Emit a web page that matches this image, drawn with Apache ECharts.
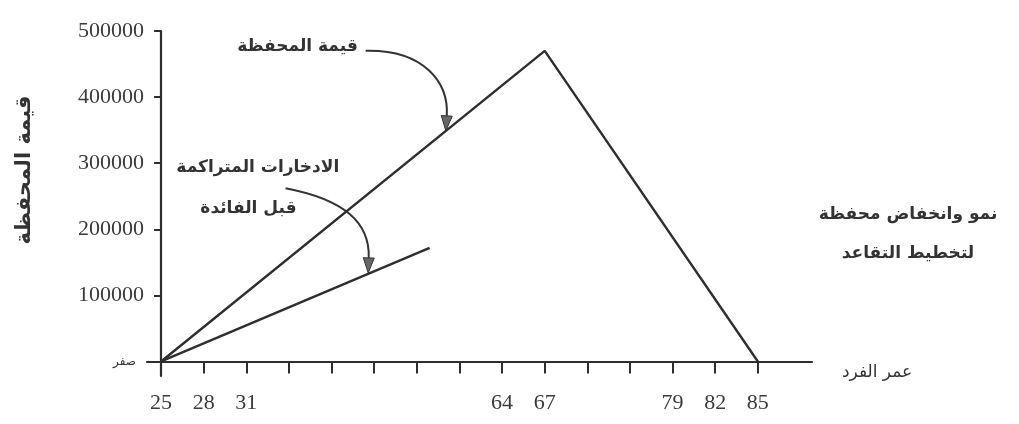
<!DOCTYPE html>
<html><head><meta charset="utf-8">
<script src="https://cdn.jsdelivr.net/npm/echarts@6/dist/echarts.min.js"></script>
<style>html,body{margin:0;padding:0;background:#fff}#c{width:1019px;height:424px}</style>
</head><body><div id="c"></div>
<script>
// ---- data ----
const ageLabels = ['25','28','31','','','','','','64','67','','','79','82','85'];
const tickIndex = [0,1,2,3,4,5,6,7,8,9,10,11,12,13,14];
const labelIndex = [0,1,2,8,9,12,13,14];
const portfolioIdx = [0, 9, 14];
const portfolioValue = [0, 470000, 0];
const savingsIdx = [0, 6.3];
const savingsValue = [0, 172000];
const yTicks = [0, 100000, 200000, 300000, 400000, 500000];

const AR = '"DejaVu Sans", sans-serif';
const SERIF = '"Liberation Serif", "DejaVu Serif", serif';
const INK = '#2e2e2e';

const chart = echarts.init(document.getElementById('c'), null, {renderer:'canvas'});
chart.setOption({
  animation:false,
  backgroundColor:'#fff',
  grid:{left:147, right:207, top:31, bottom:48},
  xAxis:{
    type:'value', min:-0.33, max:15.27,
    name:'عمر الفرد', nameLocation:'end', nameGap:30,
    nameTextStyle:{fontFamily:AR, fontSize:17, color:'#333', verticalAlign:'top', padding:[3,0,0,0]},
    axisLine:{onZero:true, lineStyle:{color:INK, width:2.2}},
    axisTick:{show:true, inside:false, length:12, customValues:tickIndex, lineStyle:{color:INK, width:2}},
    axisLabel:{customValues:labelIndex, margin:16, color:'#3a3a3a', fontFamily:SERIF, fontSize:22,
      formatter:v=>ageLabels[Math.round(v)]},
    splitLine:{show:false}
  },
  yAxis:{
    type:'value', min:-22000, max:500000,
    axisLine:{show:true, onZero:true, lineStyle:{color:INK, width:2.2}},
    axisTick:{show:true, inside:false, length:7, customValues:yTicks, lineStyle:{color:INK, width:2}},
    axisLabel:{customValues:yTicks, margin:3, color:'#3a3a3a', fontFamily:SERIF, fontSize:22,
      formatter:v=> v===0 ? '{z|صفر}' : String(v),
      rich:{z:{fontFamily:AR, fontSize:12, color:'#333', padding:[0,8,0,0]}}},
    splitLine:{show:false}
  },
  series:[
    {type:'line', data:portfolioIdx.map((x,i)=>[x,portfolioValue[i]]), showSymbol:false,
     lineStyle:{color:INK, width:2.4}, itemStyle:{color:INK}},
    {type:'line', data:savingsIdx.map((x,i)=>[x,savingsValue[i]]), showSymbol:false,
     lineStyle:{color:INK, width:2.4}, itemStyle:{color:INK}}
  ]
});

function px(p){ return chart.convertToPixel({gridIndex:0}, p); }
function arrow(s, c1, c2, e){
  const P=[px(s),px(c1),px(c2),px(e)];
  const dx=P[3][0]-P[2][0], dy=P[3][1]-P[2][1], L=Math.hypot(dx,dy);
  const ux=dx/L, uy=dy/L, nx=-uy, ny=ux, hl=15, hw=5.5;
  const bx=P[3][0]-ux*hl, by=P[3][1]-uy*hl;
  return [
    {type:'bezierCurve', shape:{x1:P[0][0],y1:P[0][1],cpx1:P[1][0],cpy1:P[1][1],cpx2:P[2][0],cpy2:P[2][1],x2:bx,y2:by},
     style:{stroke:'#333', lineWidth:2, fill:null}},
    {type:'polygon', shape:{points:[[P[3][0],P[3][1]],[bx+nx*hw,by+ny*hw],[bx-nx*hw,by-ny*hw]]},
     style:{fill:'#666', stroke:'#333', lineWidth:1}}
  ];
}
function label(text, p, size){
  const q=px(p);
  return {type:'text', x:q[0], y:q[1], style:{text:text, fontFamily:AR, fontWeight:'bold', fontSize:size||15,
    fill:'#333', align:'center', verticalAlign:'middle'}};
}
const g=[];
g.push(...arrow([4.8,470000],[6.2,472000],[6.75,420000],[6.68,349000]));
g.push(...arrow([2.92,262000],[4.3,245000],[4.9,210000],[4.86,134000]));
g.push(label('قيمة المحفظة',[3.2,477000],17));
g.push(label('الادخارات المتراكمة',[2.27,293000],17));
g.push(label('قبل الفائدة',[2.05,231000],17));
g.push({type:'text', x:25, y:170, rotation:Math.PI/2, style:{text:'قيمة المحفظة', fontFamily:AR, fontWeight:'bold',
  fontSize:21, fill:'#333', align:'center', verticalAlign:'middle'}});
g.push({type:'text', x:908, y:215, style:{text:'نمو وانخفاض محفظة', fontFamily:AR, fontWeight:'bold', fontSize:17,
  fill:'#333', align:'center', verticalAlign:'middle'}});
g.push({type:'text', x:908, y:254, style:{text:'لتخطيط التقاعد', fontFamily:AR, fontWeight:'bold', fontSize:17,
  fill:'#333', align:'center', verticalAlign:'middle'}});
chart.setOption({graphic:g});
</script></body></html>
